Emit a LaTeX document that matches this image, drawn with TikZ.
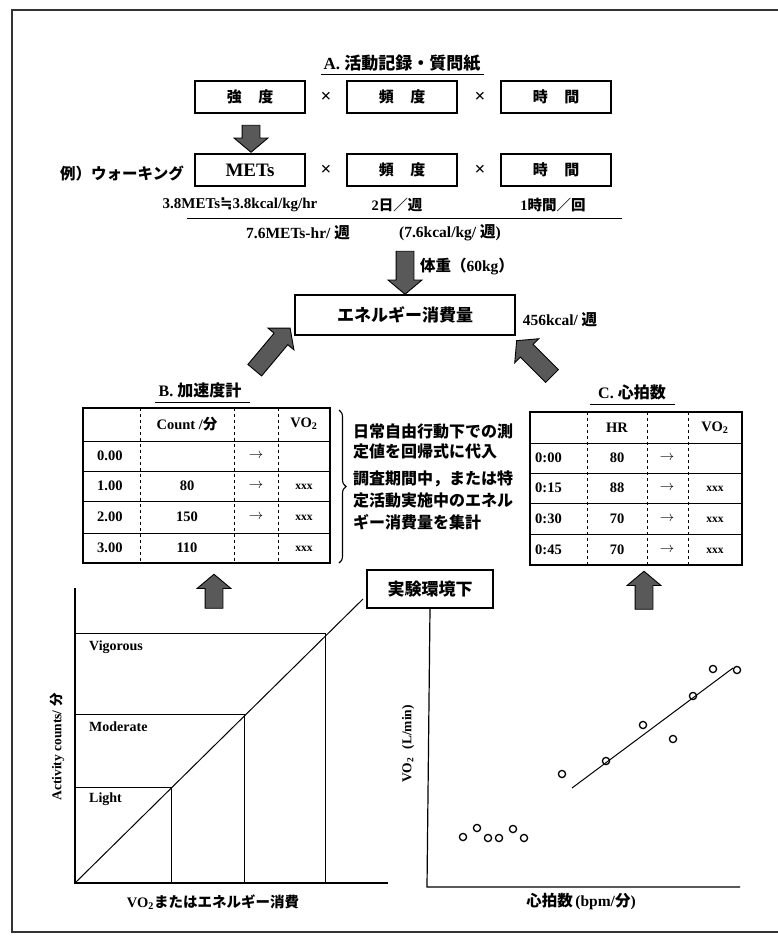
\documentclass[tikz,border=0pt]{standalone}
\usepackage{fontspec}
\setmainfont{Liberation Serif}
\newfontfamily\cjk{Noto Sans CJK JP}
\newfontfamily\dvs{DejaVu Sans}
\usetikzlibrary{shapes.arrows,decorations.pathreplacing}
\newcommand\J[1]{{\cjk #1}}
\newcommand\fsz[1]{\fontsize{#1}{#1}\selectfont\bfseries}
\newcommand\fszb[2]{\fontsize{#1}{#2}\selectfont\bfseries}
\tikzset{
  box/.style={draw, line width=1.1pt, minimum width=110pt, minimum height=32pt, inner sep=0pt, font=\fsz{15}},
  txt/.style={inner sep=0pt, font=\fsz{15.5}},
  cell/.style={inner sep=0pt, font=\fsz{14.5}},
  small/.style={inner sep=0pt, font=\fsz{11.5}},
  times/.style={inner sep=0pt, font=\fsz{19}},
  blockarr/.style={single arrow, draw=black, line width=0.9pt, fill=black!65, inner xsep=0pt, inner ysep=8.5pt,
    single arrow head extend=8pt, single arrow tip angle=100},
  ln/.style={line width=1pt},
  dsh/.style={line width=1pt, dash pattern=on 3pt off 3pt},
  pt/.style={line width=1.3pt}
}
\begin{document}
\begin{tikzpicture}[x=1pt,y=-1pt]
\useasboundingbox (0,0) rectangle (778,940);
% outer frame
\draw[line width=1.2pt, black!80] (778,10) -- (12,10) -- (12,932) -- (778,932);

% ---------- A ----------
\node[txt, font=\fsz{17}] (tA) at (402,63) {A. \J{活動記録・質問紙}};
\draw[ln] (321,74) -- (484,74);

\node[box] (r1a) at (250,97) {\J{強\hspace{1.1em}度}};
\node[times] (x1) at (326,97) {×};
\node[box] (r1b) at (402,97) {\J{頻\hspace{1.1em}度}};
\node[times] (x2) at (480,97) {×};
\node[box] (r1c) at (556,97) {\J{時\hspace{1.1em}間}};

\node[blockarr, minimum height=27pt, rotate=-90] (ar1) at (251,135) {};

\node[box, font=\fsz{19}] (r2a) at (250,170) {METs};
\node[times] (x3) at (326,170) {×};
\node[box] (r2b) at (402,170) {\J{頻\hspace{1.1em}度}};
\node[times] (x4) at (480,170) {×};
\node[box] (r2c) at (556,170) {\J{時\hspace{1.1em}間}};
\node[txt] (ex) at (122,173) {\J{例）ウォーキング}};

\node[txt, font=\fsz{15}] (n1) at (240,205) {3.8METs{\dvs ≒}3.8kcal/kg/hr};
\node[txt, font=\fsz{14.5}] (n2) at (397,205) {2\J{日／週}};
\node[txt, font=\fsz{14.5}] (n3) at (553,205) {1\J{時間／回}};
\draw[ln] (187,218) -- (622,218);
\node[txt] (n4) at (298,233) {7.6METs-hr/ \J{週}};
\node[txt] (n5) at (450,233) {(7.6kcal/kg/ \J{週})};

\node[blockarr, minimum height=43pt, rotate=-90] (ar2) at (405,269) {};
\node[txt] (wt) at (467,267) {\J{体重（}60kg\J{）}};

\node[box, minimum width=220pt, minimum height=40pt, font=\fsz{17}] (en) at (405,315) {\J{エネルギー消費量}};
\node[txt] (kc) at (560,320) {456kcal/ \J{週}};

\node[blockarr, minimum height=55pt, rotate=50] (ar3) at (270,352) {};
\node[blockarr, minimum height=50pt, rotate=135] (ar4) at (537,361) {};

% ---------- B ----------
\node[txt, font=\fsz{16}] (tB) at (200,390) {B. \J{加速度計}};
\draw[ln] (155,402) -- (250,402);
\draw[line width=1.2pt] (83,408) rectangle (330,563);
\foreach \y in {441,471,501,533} \draw[ln] (83,\y) -- (330,\y);
\foreach \x in {140,234,278} \draw[dsh] (\x,408) -- (\x,563);
\node[cell] (bh2) at (187,424) {Count /\J{分}};
\node[cell] (bh4) at (304,424) {VO\textsubscript{2}};
\node[cell, anchor=west] (b1) at (97,456) {0.00};
\node[cell, anchor=west] (b2) at (97,486) {1.00};
\node[cell, anchor=west] (b3) at (97,517) {2.00};
\node[cell, anchor=west] (b4) at (97,548) {3.00};
\node[cell] (b1c) at (256,456) {$\rightarrow$};
\node[cell] (b2b) at (187,486) {80};
\node[cell] (b2c) at (256,486) {$\rightarrow$};
\node[small] (b2d) at (304,487) {xxx};
\node[cell] (b3b) at (187,517) {150};
\node[cell] (b3c) at (256,517) {$\rightarrow$};
\node[small] (b3d) at (304,518) {xxx};
\node[cell] (b4b) at (187,548) {110};
\node[small] (b4d) at (304,549) {xxx};

\draw[line width=1.1pt, decorate, decoration={brace, amplitude=7pt}] (339,410) -- (339,563);
\node[inner sep=0pt, anchor=north west, align=left, font=\fszb{16}{20}] (p1) at (353,424)
  {\J{日常自由行動下での測}\\\J{定値を回帰式に代入}};
\node[inner sep=0pt, anchor=north west, align=left, font=\fszb{16}{22}] (p2) at (353,471)
  {\J{調査期間中，または特}\\\J{定活動実施中のエネル}\\\J{ギー消費量を集計}};

% ---------- C ----------
\node[txt, font=\fsz{16}] (tC) at (632,392) {C. \J{心拍数}};
\draw[ln] (590,404) -- (675,404);
\draw[line width=1.2pt] (530,412) rectangle (742,565);
\foreach \y in {443,473,503,534} \draw[ln] (530,\y) -- (742,\y);
\foreach \x in {587,647,688} \draw[dsh] (\x,412) -- (\x,565);
\node[cell] (ch2) at (617,428) {HR};
\node[cell] (ch4) at (715,428) {VO\textsubscript{2}};
\node[cell, anchor=west] (c1) at (535,458) {0:00};
\node[cell, anchor=west] (c2) at (535,488) {0:15};
\node[cell, anchor=west] (c3) at (535,519) {0:30};
\node[cell, anchor=west] (c4) at (535,550) {0:45};
\node[cell] (c1b) at (617,458) {80};
\node[cell] (c2b) at (617,488) {88};
\node[cell] (c3b) at (617,519) {70};
\node[cell] (c4b) at (617,550) {70};
\foreach \y/\n in {458/1,488/2,519/3,550/4} \node[cell] (c\n c) at (667,\y) {$\rightarrow$};
\node[small] (c2d) at (715,489) {xxx};
\node[small] (c3d) at (715,520) {xxx};
\node[small] (c4d) at (715,551) {xxx};

% up arrows
\node[blockarr, minimum height=34pt, rotate=90] (ar5) at (214,595) {};
\node[blockarr, minimum height=38pt, rotate=90] (ar6) at (644,594) {};

% lab box
\node[box, minimum width=126pt, minimum height=38pt, font=\fsz{17}] (lab) at (430,589) {\J{実験環境下}};

% ---------- left chart ----------
\coordinate (o1) at (75,883);
\draw[line width=1.2pt] (75,588) -- (o1) -- (388,883);
\draw[ln] (75,633) -- (325,633) -- (325,883);
\draw[ln] (75,714) -- (244,714) -- (244,883);
\draw[ln] (75,787) -- (171,787) -- (171,883);
\draw[ln] (o1) -- (363,599);
\node[cell, font=\fsz{14}, anchor=west] (vig) at (89,647) {Vigorous};
\node[cell, font=\fsz{14}, anchor=west] (mod) at (89,727) {Moderate};
\node[cell, font=\fsz{14}, anchor=west] (lig) at (89,799) {Light};
\node[txt, font=\fsz{13.5}, rotate=90] (ylab1) at (57,747) {Activity counts/ \J{分}};
\node[txt, font=\fsz{14.5}] (xlab1) at (213,902) {VO\textsubscript{2}\J{またはエネルギー消費}};

% ---------- right chart ----------
\draw[line width=1.2pt] (lab.south) -- (427,887) -- (740,887);
\node[txt, font=\fsz{13.5}, rotate=90] (ylab2) at (408,744) {VO\textsubscript{2}\hspace{0.6em}(L/min)};
\node[txt] (xlab2) at (581,902) {\J{心拍数}\,(bpm/\J{分})};
\draw[ln] (572,788) -- (733,668);
\foreach \p in {(463,837),(477,828),(488,838),(499,838),(513,829),(524,838),(562,774),(606,761),(643,725),(673,739),(693,696),(713,669),(737,670)}
  \draw[pt] \p circle (3.6pt);
\end{tikzpicture}
\end{document}
